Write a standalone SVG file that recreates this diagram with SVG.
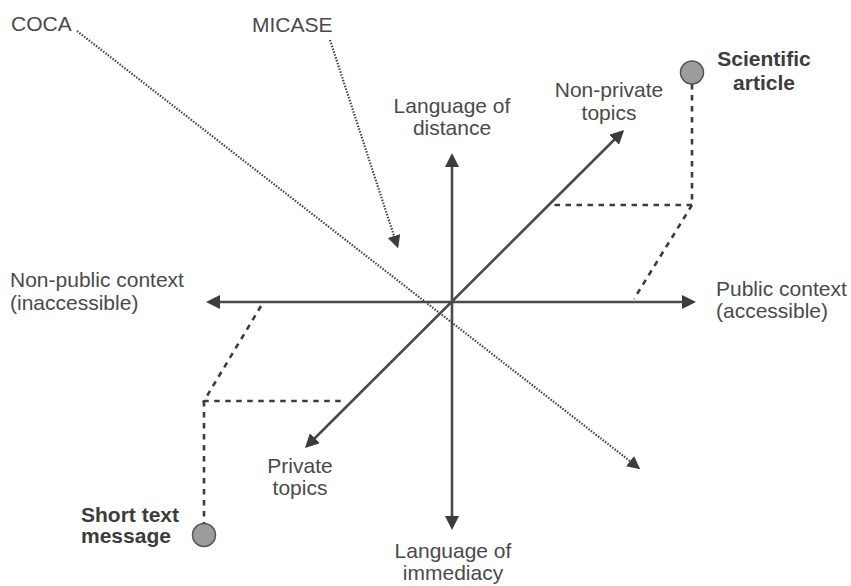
<svg xmlns="http://www.w3.org/2000/svg" width="851" height="586" viewBox="0 0 851 586">
<style>
text{font-family:"Liberation Sans",Arial,sans-serif;font-size:21px;fill:#4a4a4a}
.b{font-weight:bold;fill:#3c3c3c}
.m{text-anchor:middle}
.axis{stroke:#4a4a4a;stroke-width:2.6;fill:none}
.dot{stroke:#444;stroke-width:2.2;stroke-dasharray:1.5 1.5;fill:none}
.dash{stroke:#3c3c3c;stroke-width:2.6;stroke-dasharray:5.5 5.5;fill:none}
.pt{fill:#9c9c9c;stroke:#555;stroke-width:1.5}
</style>
<defs>
<marker id="ah" viewBox="0 0 14 14" refX="4" refY="7" markerWidth="14" markerHeight="14" markerUnits="userSpaceOnUse" orient="auto-start-reverse">
<path d="M0,0 L14,7 L0,14 z" fill="#3c3c3c"/>
</marker>
<marker id="ah2" viewBox="0 0 14 14" refX="5" refY="7" markerWidth="13" markerHeight="13" markerUnits="userSpaceOnUse" orient="auto">
<path d="M0,0 L14,7 L0,14 z" fill="#3c3c3c"/>
</marker>
</defs>
<g id="connectors">
<line class="axis" x1="452" y1="163" x2="452" y2="520" marker-start="url(#ah)" marker-end="url(#ah)"/>
<line class="axis" x1="216" y1="302" x2="686" y2="302" marker-start="url(#ah)" marker-end="url(#ah)"/>
<line class="axis" x1="312" y1="441" x2="617" y2="137" marker-start="url(#ah)" marker-end="url(#ah)"/>
<line class="dot" x1="77" y1="31" x2="633.7" y2="464" marker-end="url(#ah2)"/>
<line class="dot" x1="330" y1="40" x2="395.5" y2="240.4" marker-end="url(#ah2)"/>
<path class="dash" d="M692,84 L692,205 L553,205 M692,205 L634,299"/>
<path class="dash" d="M261,306 L204,401 L345,401 M204,401 L204,523"/>
</g>
<g id="coca"><text x="11" y="31">COCA</text></g>
<g id="micase"><text x="252" y="32">MICASE</text></g>
<g id="distance"><text class="m" x="452" y="113">Language of</text><text class="m" x="452" y="135">distance</text></g>
<g id="nonprivate"><text class="m" x="609" y="97">Non-private</text><text class="m" x="609" y="120">topics</text></g>
<g id="scientific"><circle class="pt" cx="692" cy="72.5" r="11.5"/><text class="b m" x="764" y="66">Scientific</text><text class="b m" x="764" y="90">article</text></g>
<g id="nonpublic"><text x="10" y="287">Non-public context</text><text x="10" y="310">(inaccessible)</text></g>
<g id="public"><text x="716" y="296">Public context</text><text x="716" y="318">(accessible)</text></g>
<g id="private"><text class="m" x="300" y="473">Private</text><text class="m" x="300" y="495">topics</text></g>
<g id="shorttext"><circle class="pt" cx="204" cy="535" r="11.5"/><text class="b" x="81" y="522">Short text</text><text class="b" x="81" y="543">message</text></g>
<g id="immediacy"><text class="m" x="453" y="558">Language of</text><text class="m" x="453" y="580">immediacy</text></g>
</svg>
